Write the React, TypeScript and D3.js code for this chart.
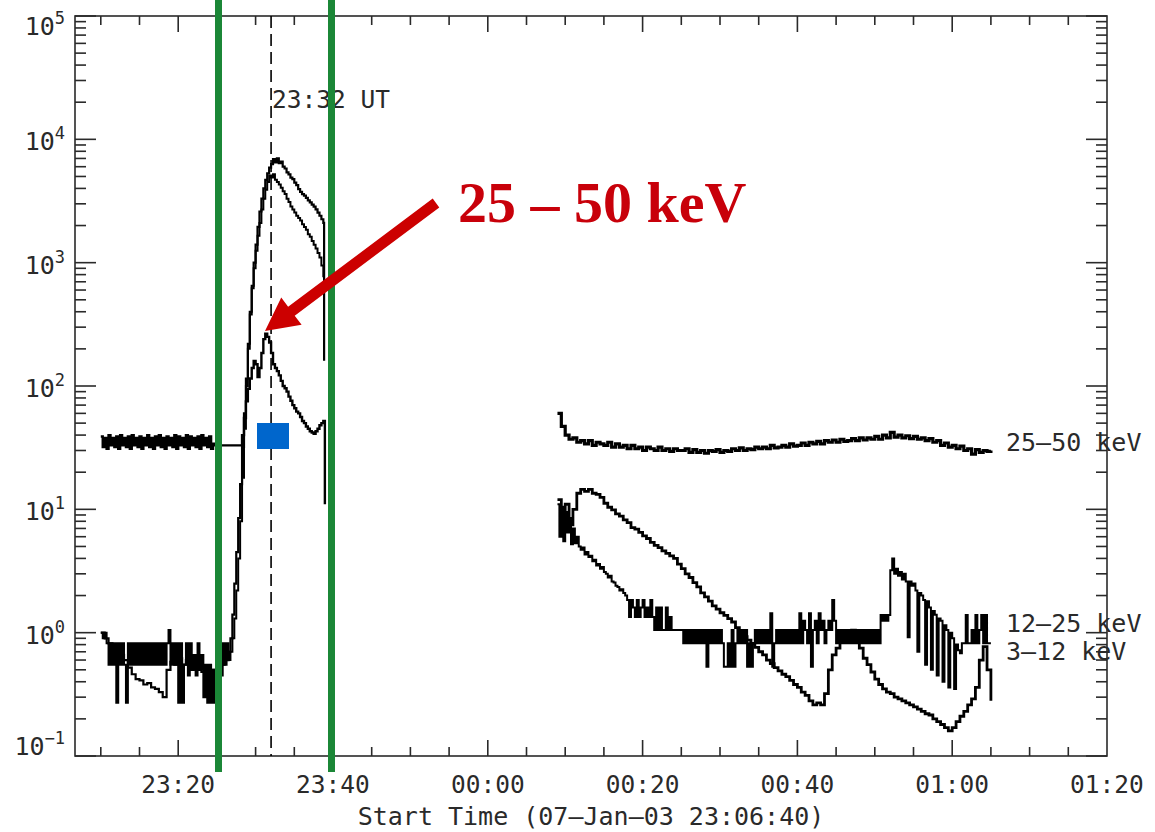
import { useEffect, useRef } from "react";
import * as d3 from "d3";

// time axis: minutes after 23:00 UT, 07-Jan-03 (60 = 00:00, 120 = 01:00)
const START_MIN = 6 + 40 / 60; // 23:06:40
const END_MIN = 140; // 01:20
const MARK_MIN = 32; // 23:32 UT

const majorTicks = [20, 40, 60, 80, 100, 120, 140];
const majorLabels = ["23:20", "23:40", "00:00", "00:20", "00:40", "01:00", "01:20"];
const decades = [-1, 0, 1, 2, 3, 4, 5];

// 3-12 keV, pre-flare, 0.5 min bins from 23:10
const lowPre = [
  1.0, 0.9, 0.82, 0.78, 0.72, 0.66, 0.6, 0.52, 0.46, 0.42,
  0.41, 0.38, 0.39, 0.36, 0.35, 0.33, 0.3, 0.5, 0.58, 0.55,
  0.62, 0.55, 0.6, 0.5, 0.55, 0.5, 0.48, 0.52, 0.45, 0.5,
  0.5, 0.55, 0.6, 0.7,
];
// 3-12 keV, flare, 0.25 min bins from 23:26:45
const lowFlare = [
  0.9,
  1.4, 2.5, 4.5, 8.5,
  16, 32, 60, 115,
  220, 400, 650, 1000,
  1400, 1950, 2600, 3300,
  4000, 4700, 5300, 5900,
  6300, 6900, 6500, 7000,
  6400, 6600, 6000, 5800,
  5400, 5200, 4900, 4750,
  4450, 4250, 3950, 3750,
  3600, 3500, 3350, 3200,
  3080, 2950, 2850, 2700,
  2550, 2400, 2250, 2100,
];
const lowCut = { t: 38.85, v: 160 };
// 3-12 keV, after the gap, 0.5 min bins from 00:09
const lowPost = [
  12, 8.5, 11, 7.5, 10, 13.5, 14.5, 14, 14.5, 13.5,
  13.2, 12.5, 11.2, 10.4, 9.9, 9.2, 8.8, 8.2, 7.8, 7.1,
  6.9, 6.5, 6.1, 5.8, 5.4, 5.1, 4.9, 4.6, 4.4, 4.2,
  4.0, 3.6, 3.3, 3.0, 2.8, 2.55, 2.35, 2.1, 1.95, 1.8,
  1.65, 1.55, 1.45, 1.38, 1.3, 1.22, 1.1, 1.0, 0.93, 0.87,
  0.82, 0.76, 0.7, 0.66, 0.6, 0.56, 0.52, 0.49, 0.46, 0.44,
  0.41, 0.38, 0.36, 0.33, 0.31, 0.28, 0.26, 0.27, 0.26, 0.32,
  0.5, 0.66, 0.75, 0.86, 0.93, 1.0, 1.05, 0.95, 0.75, 0.62,
  0.55, 0.48, 0.42, 0.38, 0.35, 0.33, 0.32, 0.3, 0.29, 0.28,
  0.27, 0.26, 0.25, 0.24, 0.23, 0.22, 0.215, 0.2, 0.19, 0.18,
  0.17, 0.16, 0.17, 0.19, 0.21, 0.23, 0.26, 0.29, 0.36, 0.6,
  0.77, 0.5, 0.28,
];

// 12-25 keV, 0.25 min bins from 23:10 (one row per minute)
const midPre = [
  1.0, 0.9, 1.0, 0.82,
  0.55, 0.82, 0.55, 0.82,
  0.27, 0.82, 0.55, 0.82,
  0.55, 0.27, 0.82, 0.55,
  0.82, 0.55, 0.82, 0.55,
  0.82, 0.55, 0.82, 0.55,
  0.82, 0.55, 0.82, 0.55,
  0.82, 0.55, 0.82, 0.55,
  0.82, 0.55, 0.82, 1.05,
  0.55, 0.82, 0.55, 0.82,
  0.27, 0.82, 0.27, 0.55,
  0.82, 0.45, 0.82, 0.5,
  0.66, 0.45, 0.82, 0.5,
  0.66, 0.3, 0.55, 0.27,
  0.55, 0.27, 0.5, 0.27,
  0.55, 0.66, 0.45, 0.82,
  0.55, 0.82, 0.6, 0.7,
  0.9, 1.3, 2.2, 4,
  8, 18, 45, 100,
  200, 380, 620, 900,
  1250, 1650, 2100, 2700,
  3300, 3900, 4500, 5100,
  4900, 5200, 4700, 4500,
  4300, 4050, 3800, 3600,
  3300, 3100, 2850, 2700,
  2550, 2400, 2300, 2200,
  2050, 1950, 1850, 1700,
  1620, 1500, 1400, 1300,
  1200, 1100, 950, 760,
];
// 12-25 keV after the gap, 0.25 min bins from 00:09
const midPost = [
  11, 6, 10.5, 5.5,
  9.5, 6.5, 8.5, 5.2,
  7, 5.3, 6, 5,
  4.7, 4.9, 4.3, 4.5,
  4.1, 4.2, 3.8, 3.9,
  3.5, 3.6, 3.3, 3.4,
  3.1, 3.0, 2.8, 2.9,
  2.6, 2.55, 2.4, 2.35,
  2.2, 2.25, 2.1, 2.0,
  1.84, 1.34, 1.84, 1.6,
  1.34, 1.84, 1.34, 1.6,
  1.84, 1.34, 1.6, 1.34,
  1.84, 1.34, 1.05, 1.6,
  1.05, 1.6, 1.05, 1.05,
  1.6, 1.05, 1.34, 1.05,
  1.05, 1.05, 1.05, 1.05,
  1.05, 0.82, 1.05, 0.82,
  1.05, 0.82, 1.05, 0.82,
  1.05, 0.82, 1.05, 0.82,
  1.05, 0.53, 1.05, 0.82,
  1.05, 0.82, 1.05, 0.82,
  1.05, 0.82, 0.53, 0.53,
  0.82, 0.53, 1.05, 0.53,
  0.82, 1.05, 0.82, 1.05,
  0.82, 1.05, 0.53, 0.82,
  0.53, 0.82, 1.05, 0.82,
  1.05, 0.82, 1.05, 0.82,
  1.05, 0.82, 1.44, 0.53,
  0.82, 1.05, 0.82, 1.05,
  0.82, 1.05, 0.82, 1.05,
  0.82, 1.05, 0.82, 1.05,
  0.82, 1.44, 0.82, 1.25,
  1.05, 0.82, 1.44, 0.53,
  1.05, 1.25, 0.82, 1.44,
  1.05, 1.25, 0.82, 1.05,
  1.25, 1.05, 1.84, 1.25,
  0.82, 1.05, 0.82, 1.05,
  0.82, 1.05, 0.82, 1.05,
  0.82, 1.05, 0.82, 1.05,
  0.82, 1.05, 0.82, 1.05,
  0.82, 1.05, 0.82, 1.05,
  0.82, 1.05, 0.82, 1.39,
  1.25, 1.39, 1.25, 1.39,
  3.2, 4.0, 3.0, 3.3,
  2.9, 3.1, 2.7, 3.0,
  2.6, 0.92, 2.6, 2.4,
  2.5, 2.2, 0.7, 2.1,
  2.0, 1.84, 0.55, 1.8,
  1.6, 0.5, 1.5, 1.4,
  0.45, 1.3, 1.25, 0.4,
  1.15, 1.05, 0.36, 1.0,
  0.9, 0.35, 0.8, 0.72,
  0.68, 0.82, 0.82, 1.39,
  0.82, 0.82, 1.05, 0.82,
  1.39, 0.82, 1.05, 1.39,
  0.82, 1.39, 0.82, 0.82,
  0.82,
];

// 25-50 keV, 0.25 min bins from 23:10 (one row per minute)
const highPre = [
  39, 32, 38, 31,
  40, 33, 38, 32,
  39, 31, 40, 33,
  38, 32, 39, 31,
  40, 33, 38, 32,
  39, 31, 38, 33,
  40, 32, 38, 31,
  39, 33, 40, 32,
  38, 31, 39, 33,
  38, 32, 40, 31,
  39, 33, 38, 32,
  40, 31, 39, 33,
  38, 32, 39, 31,
  40, 33, 38, 32,
  39, 31, 34, 33,
  33, 33, 33, 33,
  33, 33, 33, 33,
  33, 33, 33, 33,
  33, 40, 55, 75,
  95, 115, 140, 160,
  150, 118, 140, 185,
  240, 265, 250, 225,
  185, 150, 140, 132,
  122, 110, 100, 96,
  90, 82, 76, 70,
  66, 62, 60, 56,
  52, 50, 47, 45,
  43, 42, 41, 43,
  45, 48, 50, 52,
];
const highCut = { t: 38.95, v: 11 };
// 25-50 keV after the gap, 0.5 min bins from 00:09
const highPost = [
  60, 47, 40, 37, 38, 35, 36, 34, 36, 33,
  35, 34, 33, 35, 32, 34, 32, 33, 31, 33,
  31, 32, 30, 32, 31, 30, 32, 30, 31, 29.5,
  31, 30, 30, 31, 29, 30.5, 29, 30, 28.5, 30,
  29.5, 30.5, 29, 30, 29.5, 31, 30, 31.5, 30, 31,
  30.5, 32, 31, 32, 31, 33, 31.5, 32, 33, 32,
  34, 32.5, 33, 34.5, 33, 35, 34, 35.5, 34, 36,
  35, 36.5, 35, 37, 35.5, 36, 37.5, 36, 38, 36.5,
  38, 37, 39, 37, 40, 38, 42, 38.5, 40, 38,
  39.5, 37.5, 39, 37, 38, 36, 37.5, 35, 36, 33,
  34.5, 32, 33, 31, 32.5, 30, 31, 28, 30.5, 29,
  30, 29.5, 30,
];

const bandLabels = ["25\u201350 keV", "12\u201325 keV", "3\u201312 keV"];

type Pt = [number, number];
const bins = (t0: number, dt: number, v: number[]): Pt[] =>
  v.map((val, i) => [t0 + i * dt, val] as Pt);

export default function App() {
  const svgRef = useRef<SVGSVGElement | null>(null);

  useEffect(() => {
    if (!svgRef.current) return;
    const svg = d3.select(svgRef.current);
    svg.selectAll("*").remove();

    const L = 75, R = 1107, T = 16, B = 756;
    const x = d3.scaleLinear().domain([START_MIN, END_MIN]).range([L, R]);
    const y = d3.scaleLog().domain([0.1, 1e5]).range([B, T]);
    const ink = "#2a2a2a";
    const mono = "DejaVu Sans Mono";

    svg.append("rect").attr("width", 1155).attr("height", 832).attr("fill", "#fff");

    // light curves (pts, stroke width)
    const segments: { pts: Pt[]; w: number }[] = [
      { pts: [...bins(10, 0.5, lowPre), ...bins(26.75, 0.25, lowFlare), [lowCut.t, lowCut.v]], w: 2.2 },
      { pts: bins(69, 0.5, lowPost), w: 2.8 },
      { pts: bins(10, 0.25, midPre), w: 2 },
      { pts: bins(69, 0.25, midPost), w: 2 },
      { pts: [...bins(10, 0.25, highPre), [highCut.t, highCut.v]], w: 2.4 },
      { pts: bins(69, 0.5, highPost), w: 3.2 },
    ];
    const line = d3
      .line<Pt>()
      .x((d) => x(d[0]))
      .y((d) => y(d[1]))
      .curve(d3.curveStepAfter);
    svg
      .append("g")
      .selectAll("path")
      .data(segments)
      .join("path")
      .attr("d", (d) => line(d.pts))
      .attr("fill", "none")
      .attr("stroke", "#000")
      .attr("stroke-width", (d) => d.w);

    // frame + ticks
    const ax = svg.append("g").attr("stroke", ink).attr("stroke-width", 1.6).attr("fill", "none");
    ax.append("rect").attr("x", L).attr("y", T).attr("width", R - L).attr("height", B - T);

    const yTicks: { v: number; major: boolean }[] = [];
    decades.forEach((d) => {
      yTicks.push({ v: Math.pow(10, d), major: true });
      if (d < 5) for (let k = 2; k <= 9; k++) yTicks.push({ v: k * Math.pow(10, d), major: false });
    });
    yTicks.forEach((t) => {
      const len = t.major ? 21 : 11;
      const yy = y(t.v);
      ax.append("line").attr("x1", L).attr("x2", L + len).attr("y1", yy).attr("y2", yy);
      ax.append("line").attr("x1", R).attr("x2", R - len).attr("y1", yy).attr("y2", yy);
    });
    d3.range(10, 140, 5).forEach((m) => {
      const len = majorTicks.includes(m) ? 16 : 9;
      const xx = x(m);
      ax.append("line").attr("x1", xx).attr("x2", xx).attr("y1", B).attr("y2", B - len);
      ax.append("line").attr("x1", xx).attr("x2", xx).attr("y1", T).attr("y2", T + len);
    });

    // y tick labels 10^n
    decades.forEach((d) => {
      const yy = Math.min(B - 1, Math.max(T + 19, y(Math.pow(10, d)) + 11));
      const t = svg
        .append("text")
        .attr("x", 65)
        .attr("y", yy)
        .attr("text-anchor", "end")
        .attr("font-family", mono)
        .attr("font-size", 25)
        .attr("fill", ink);
      t.append("tspan").text("10");
      t.append("tspan")
        .attr("dy", -11)
        .attr("font-size", 17)
        .text(d < 0 ? `\u2212${-d}` : `${d}`);
    });

    // x tick labels
    majorTicks.forEach((m, i) => {
      svg
        .append("text")
        .attr("x", x(m))
        .attr("y", 793)
        .attr("text-anchor", "middle")
        .attr("font-family", mono)
        .attr("font-size", 24.5)
        .attr("fill", ink)
        .text(majorLabels[i]);
    });
    svg
      .append("text")
      .attr("x", (L + R) / 2)
      .attr("y", 825)
      .attr("text-anchor", "middle")
      .attr("font-family", mono)
      .attr("font-size", 25)
      .attr("fill", ink)
      .text("Start Time (07\u2013Jan\u201303 23:06:40)");

    // channel labels at right
    bandLabels.forEach((b, i) => {
      svg
        .append("text")
        .attr("x", 1006)
        .attr("y", [451, 632, 660][i])
        .attr("font-family", mono)
        .attr("font-size", 25)
        .attr("fill", ink)
        .text(b);
    });

    // 23:32 UT marker
    svg
      .append("line")
      .attr("x1", x(MARK_MIN))
      .attr("x2", x(MARK_MIN))
      .attr("y1", T)
      .attr("y2", B)
      .attr("stroke", "#000")
      .attr("stroke-width", 1.6)
      .attr("stroke-dasharray", "12,6");
    svg
      .append("text")
      .attr("x", x(MARK_MIN) + 1)
      .attr("y", 108)
      .attr("font-family", mono)
      .attr("font-size", 24.5)
      .attr("fill", ink)
      .text("23:32 UT");

    // green interval lines
    [218.5, 331.5].forEach((gx) => {
      svg
        .append("line")
        .attr("x1", gx)
        .attr("x2", gx)
        .attr("y1", 0)
        .attr("y2", 772)
        .attr("stroke", "#1b8737")
        .attr("stroke-width", 7);
    });

    // red arrow pointing at the 25-50 keV peak
    const tail = [436, 203];
    const tip = [265, 331];
    const dx = tip[0] - tail[0], dy = tip[1] - tail[1];
    const len = Math.hypot(dx, dy);
    const ux = dx / len, uy = dy / len;
    const nx = -uy, ny = ux;
    const headLen = 33, headHalf = 17, shaft = 5.5;
    const bx = tip[0] - ux * headLen, by = tip[1] - uy * headLen;
    const pts = [
      [tail[0] + nx * shaft, tail[1] + ny * shaft],
      [bx + nx * shaft, by + ny * shaft],
      [bx + nx * headHalf, by + ny * headHalf],
      tip,
      [bx - nx * headHalf, by - ny * headHalf],
      [bx - nx * shaft, by - ny * shaft],
      [tail[0] - nx * shaft, tail[1] - ny * shaft],
    ];
    svg.append("polygon").attr("points", pts.map((p) => p.join(",")).join(" ")).attr("fill", "#cc0000");

    svg
      .append("text")
      .attr("x", 458)
      .attr("y", 222)
      .attr("font-family", "Liberation Serif")
      .attr("font-weight", "bold")
      .attr("font-size", 58)
      .attr("fill", "#c8000a")
      .text("25 \u2013 50 keV");

    // blue marker
    svg
      .append("rect")
      .attr("x", 257)
      .attr("y", 423)
      .attr("width", 32)
      .attr("height", 26)
      .attr("fill", "#0066cc");
  }, []);

  return (
    <div style={{ position: "absolute", left: 0, top: 0 }}>
      <svg ref={svgRef} width={1155} height={832} style={{ display: "block" }} />
    </div>
  );
}
